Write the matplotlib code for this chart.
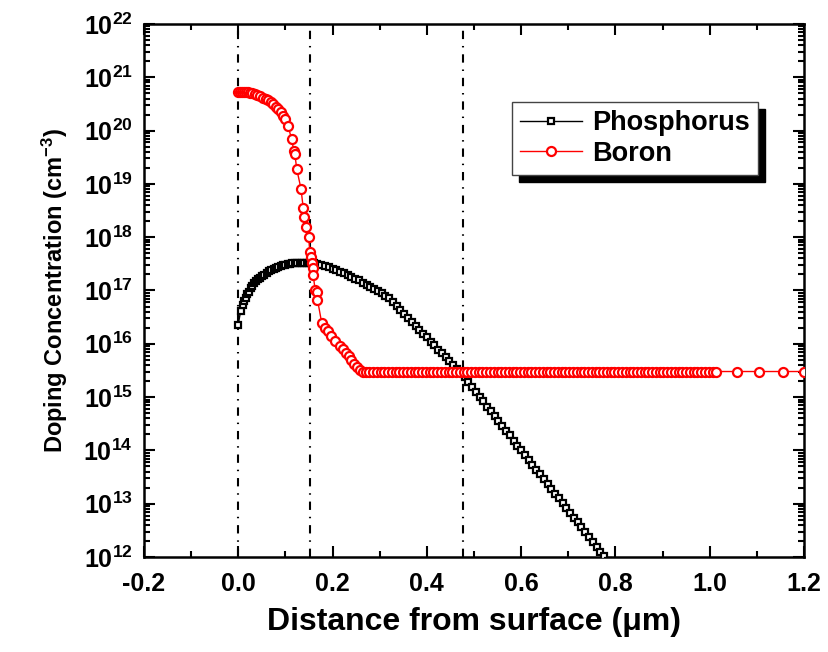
import matplotlib

matplotlib.use("Agg")
import matplotlib.pyplot as plt
import numpy as np
from matplotlib.patches import Rectangle
from matplotlib.ticker import LogLocator, MultipleLocator, NullFormatter

plt.rcParams["font.family"] = "Liberation Sans"
plt.rcParams["font.weight"] = "bold"
plt.rcParams["mathtext.fontset"] = "custom"
plt.rcParams["mathtext.rm"] = "Liberation Sans:bold"
plt.rcParams["mathtext.bf"] = "Liberation Sans:bold"
plt.rcParams["mathtext.it"] = "Liberation Sans:bold"
plt.rcParams["axes.unicode_minus"] = False

# depth (um) and log10 of concentration (cm^-3)
phos_x = [
    0.000, 0.005, 0.009, 0.013, 0.016, 0.019, 0.022, 0.026, 0.030, 0.034,
    0.038, 0.042, 0.046, 0.050, 0.055, 0.060, 0.065, 0.070, 0.075, 0.080,
    0.085, 0.090, 0.095, 0.100, 0.105, 0.110, 0.115, 0.120, 0.125, 0.130,
    0.135, 0.140, 0.145, 0.150, 0.155,
    0.160, 0.168, 0.176, 0.184, 0.192, 0.200, 0.208, 0.216, 0.224, 0.232,
    0.240, 0.248, 0.256, 0.264, 0.272, 0.280, 0.288, 0.296, 0.304, 0.312,
    0.320, 0.328, 0.336, 0.344, 0.352, 0.360, 0.368, 0.376, 0.384, 0.392,
    0.400, 0.408, 0.416, 0.424, 0.432, 0.440, 0.448, 0.456, 0.464, 0.472,
    0.480, 0.488, 0.496, 0.504, 0.512, 0.520, 0.528, 0.536, 0.544, 0.552,
    0.560, 0.568, 0.576, 0.584, 0.592, 0.600, 0.608, 0.616, 0.624, 0.632,
    0.640, 0.648, 0.656, 0.664, 0.672, 0.680, 0.688, 0.696, 0.704, 0.712,
    0.720, 0.728, 0.736, 0.744, 0.752, 0.760, 0.768, 0.776, 0.784,
]
phos_log = [
    16.36, 16.62, 16.73, 16.81, 16.86, 16.93, 16.98, 17.04, 17.09, 17.14,
    17.18, 17.21, 17.24, 17.27, 17.30, 17.33, 17.36, 17.39, 17.41, 17.43,
    17.45, 17.46, 17.47, 17.48, 17.49, 17.50, 17.51, 17.51, 17.51, 17.52,
    17.52, 17.52, 17.51, 17.51, 17.51,
    17.51, 17.50, 17.48, 17.46, 17.44, 17.41, 17.38, 17.35, 17.32, 17.29,
    17.26, 17.22, 17.19, 17.15, 17.11, 17.07, 17.03, 16.99, 16.95, 16.90,
    16.85, 16.78, 16.71, 16.63, 16.56, 16.48, 16.41, 16.34, 16.26, 16.19,
    16.12, 16.04, 15.97, 15.89, 15.82, 15.75, 15.68, 15.61, 15.53, 15.45,
    15.37, 15.28, 15.19, 15.10, 15.01, 14.92, 14.82, 14.73, 14.64, 14.55,
    14.46, 14.37, 14.28, 14.18, 14.09, 14.00, 13.91, 13.82, 13.73, 13.64,
    13.55, 13.46, 13.37, 13.28, 13.19, 13.10, 13.01, 12.92, 12.83, 12.74,
    12.65, 12.56, 12.46, 12.37, 12.28, 12.19, 12.10, 12.01, 11.92,
]

boron_x = [
    0.000, 0.004, 0.008, 0.012, 0.016, 0.020, 0.025, 0.030, 0.035, 0.040,
    0.046, 0.052, 0.058, 0.064, 0.069, 0.074, 0.079, 0.084, 0.090, 0.095,
    0.100, 0.106, 0.113, 0.118, 0.120, 0.124, 0.133, 0.138, 0.140, 0.143,
    0.149, 0.152, 0.154, 0.156, 0.158, 0.159, 0.163, 0.166, 0.168, 0.177,
    0.184, 0.190, 0.196, 0.205, 0.216, 0.222, 0.228, 0.234, 0.240, 0.246,
    0.252, 0.258, 0.264,
]
boron_log = [
    20.73, 20.73, 20.73, 20.73, 20.72, 20.72, 20.71, 20.70, 20.69, 20.67,
    20.65, 20.62, 20.60, 20.57, 20.53, 20.50, 20.45, 20.40, 20.34, 20.28,
    20.21, 20.08, 19.84, 19.62, 19.56, 19.28, 18.91, 18.54, 18.38, 18.19,
    18.01, 17.73, 17.63, 17.51, 17.42, 17.29, 17.01, 16.98, 16.83, 16.39,
    16.30, 16.24, 16.14, 16.05, 15.96, 15.90, 15.83, 15.77, 15.70, 15.63,
    15.57, 15.50, 15.48,
]
# substrate background level (flat part of the boron curve)
boron_plateau_x = [
    0.270, 0.278, 0.286, 0.294, 0.302, 0.310, 0.318, 0.326, 0.334, 0.342,
    0.350, 0.358, 0.366, 0.374, 0.382, 0.390, 0.398, 0.406, 0.414, 0.422,
    0.430, 0.438, 0.446, 0.454, 0.462, 0.470, 0.478, 0.486, 0.494, 0.502,
    0.510, 0.518, 0.526, 0.534, 0.542, 0.550, 0.558, 0.566, 0.574, 0.582,
    0.590, 0.598, 0.606, 0.614, 0.622, 0.630, 0.638, 0.646, 0.654, 0.662,
    0.670, 0.678, 0.686, 0.694, 0.702, 0.710, 0.718, 0.726, 0.734, 0.742,
    0.750, 0.758, 0.766, 0.774, 0.782, 0.790, 0.798, 0.806, 0.814, 0.822,
    0.830, 0.838, 0.846, 0.854, 0.862, 0.870, 0.878, 0.886, 0.894, 0.902,
    0.910, 0.918, 0.926, 0.934, 0.942, 0.950, 0.958, 0.966, 0.974, 0.982,
    0.990, 0.998, 1.006, 1.013, 1.059, 1.105, 1.155, 1.200,
]
boron_plateau_log = 15.48

# junction / layer boundaries (um)
boundary_x = [0.0, 0.153, 0.477]

y_exponents = [12, 13, 14, 15, 16, 17, 18, 19, 20, 21, 22]
x_ticks = [-0.2, 0.0, 0.2, 0.4, 0.6, 0.8, 1.0, 1.2]

fig = plt.figure(figsize=(8.29, 6.52), dpi=100)
ax = fig.add_axes([0.1737, 0.1457, 0.7961, 0.8175])

for xv in boundary_x:
    ax.axvline(xv, color="k", lw=1.5, ls=(0, (4, 3.3, 0.7, 3.3)), zorder=1)

phos_y = 10.0 ** np.array(phos_log)
boron_y = 10.0 ** np.array(boron_log + [boron_plateau_log] * len(boron_plateau_x))
boron_all_x = boron_x + boron_plateau_x

ax.plot(phos_x, phos_y, "-s", color="k", lw=1.0, ms=5, mew=1.6, mfc="white",
        label="Phosphorus", zorder=3)
ax.plot(boron_all_x, boron_y, "-o", color="#ff0000", lw=1.0, ms=6.5, mew=1.6,
        mfc="white", label="Boron", zorder=3)

ax.set_yscale("log")
ax.set_ylim(1e12, 1e22)
ax.set_xlim(-0.2, 1.2)

ax.set_yticks([10.0 ** e for e in y_exponents])
ax.set_yticklabels([r"$\mathbf{10^{%d}}$" % e for e in y_exponents])
ax.yaxis.set_minor_locator(LogLocator(base=10, subs=np.arange(2, 10), numticks=100))
ax.yaxis.set_minor_formatter(NullFormatter())

ax.set_xticks(x_ticks)
ax.set_xticklabels(["%.1f" % v for v in x_ticks])
ax.xaxis.set_minor_locator(MultipleLocator(0.1))

ax.tick_params(which="both", direction="in", top=True, right=True, width=1.5)
ax.tick_params(which="major", length=8)
ax.tick_params(which="minor", length=4)
ax.tick_params(axis="x", labelsize=18, pad=11)
ax.tick_params(axis="y", labelsize=18, pad=8)
for sp in ax.spines.values():
    sp.set_linewidth(1.8)

ax.set_xlabel("Distance from surface (\u03bcm)", fontsize=23, fontweight="bold", labelpad=8)
ax.set_ylabel(r"Doping Concentration (cm$^{\mathbf{-3}}$)", fontsize=17,
              fontweight="bold", labelpad=10)

leg = ax.legend(loc="upper left", bbox_to_anchor=(0.5576, 0.853), borderaxespad=0,
                fontsize=19.5, handlelength=2.3, handletextpad=0.37, borderpad=0.3,
                labelspacing=0.15, fancybox=False, framealpha=1, edgecolor="#444444")
leg.get_frame().set_linewidth(1.0)

# hard black drop shadow behind the legend box
fig.canvas.draw()
bb = leg.get_window_extent()
inv = ax.transAxes.inverted()
x0, y0 = inv.transform((bb.x0 + 7, bb.y0 - 7))
x1, y1 = inv.transform((bb.x1 + 7, bb.y1 - 7))
ax.add_patch(Rectangle((x0, y0), x1 - x0, y1 - y0, transform=ax.transAxes,
                       color="k", zorder=4.9, clip_on=False))

fig.savefig("out.png", dpi=100)
